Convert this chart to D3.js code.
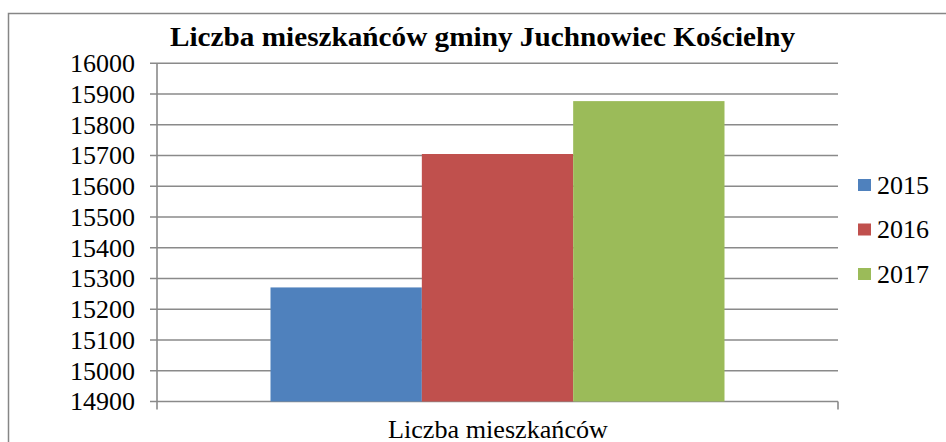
<!DOCTYPE html>
<meta charset="utf-8" />
<script src="https://d3js.org/d3.v7.min.js"></script>
<body style="margin: 0; background: #ffffff">
  <div id="chart"></div>
  <script>
    var years = ["2015", "2016", "2017"];
    var values = [15271, 15705, 15877];
    var category = ["Liczba mieszkańców"];
    var yTicks = [14900, 15000, 15100, 15200, 15300, 15400, 15500, 15600, 15700, 15800, 15900, 16000];
    var colors = ["#4F81BD", "#C0504D", "#9BBB59"];

    var W = 946, H = 442;
    var plot = { left: 157, right: 838, top: 63.3, bottom: 401.5 };
    var font = "Liberation Serif";

    var svg = d3.select("#chart").append("svg")
      .attr("width", W).attr("height", H)
      .style("display", "block");

    // outer frame (cut off at the right and bottom)
    svg.append("rect")
      .attr("x", 8.5).attr("y", 13.5)
      .attr("width", W + 10).attr("height", H + 10)
      .attr("fill", "none").attr("stroke", "#868686").attr("stroke-width", 1.5);

    svg.append("text")
      .attr("x", 170).attr("y", 46)
      .attr("font-family", font).attr("font-weight", "bold").attr("font-size", 27)
      .attr("textLength", 625).attr("lengthAdjust", "spacingAndGlyphs")
      .text("Liczba mieszkańców gminy Juchnowiec Kościelny");

    var y = d3.scaleLinear().domain([14900, 16000]).range([plot.bottom, plot.top]);
    var x = d3.scaleBand().domain(category).range([plot.left, plot.right]);
    var xSub = d3.scaleBand().domain(years)
      .range([x(category[0]) + x.bandwidth() / 6, x(category[0]) + x.bandwidth() * 5 / 6]);

    // gridlines + ticks
    svg.append("g").selectAll("line").data(yTicks).enter().append("line")
      .attr("x1", plot.left - 7).attr("x2", plot.right)
      .attr("y1", function (d) { return y(d); }).attr("y2", function (d) { return y(d); })
      .attr("stroke", "#8a8a8a").attr("stroke-width", 1.6);

    svg.append("g").selectAll("text").data(yTicks).enter().append("text")
      .attr("x", 135).attr("y", function (d) { return y(d); })
      .attr("dy", "0.34em")
      .attr("text-anchor", "end")
      .attr("font-family", font).attr("font-size", 26)
      .text(function (d) { return d; });

    // bars
    svg.append("g").selectAll("rect").data(years).enter().append("rect")
      .attr("x", function (d) { return xSub(d); })
      .attr("width", xSub.bandwidth())
      .attr("y", function (d, i) { return y(values[i]); })
      .attr("height", function (d, i) { return plot.bottom - y(values[i]); })
      .attr("fill", function (d, i) { return colors[i]; });

    // axis lines
    svg.append("line")
      .attr("x1", plot.left).attr("x2", plot.left)
      .attr("y1", plot.top).attr("y2", plot.bottom + 8)
      .attr("stroke", "#8a8a8a").attr("stroke-width", 1.6);
    svg.append("line")
      .attr("x1", plot.right).attr("x2", plot.right)
      .attr("y1", plot.bottom).attr("y2", plot.bottom + 8)
      .attr("stroke", "#8a8a8a").attr("stroke-width", 1.6);

    svg.append("text")
      .attr("x", 388).attr("y", 437.5)
      .attr("font-family", font).attr("font-size", 25)
      .attr("textLength", 220).attr("lengthAdjust", "spacingAndGlyphs")
      .text(category[0]);

    // legend
    var legend = svg.append("g").selectAll("g").data(years).enter().append("g")
      .attr("transform", function (d, i) { return "translate(858," + (185 + i * 44.5) + ")"; });
    legend.append("rect")
      .attr("x", 0).attr("y", -6).attr("width", 13).attr("height", 12)
      .attr("fill", function (d, i) { return colors[i]; });
    legend.append("text")
      .attr("x", 19).attr("y", 0).attr("dy", "0.34em")
      .attr("font-family", font).attr("font-size", 26)
      .text(function (d) { return d; });
  </script>
</body>
